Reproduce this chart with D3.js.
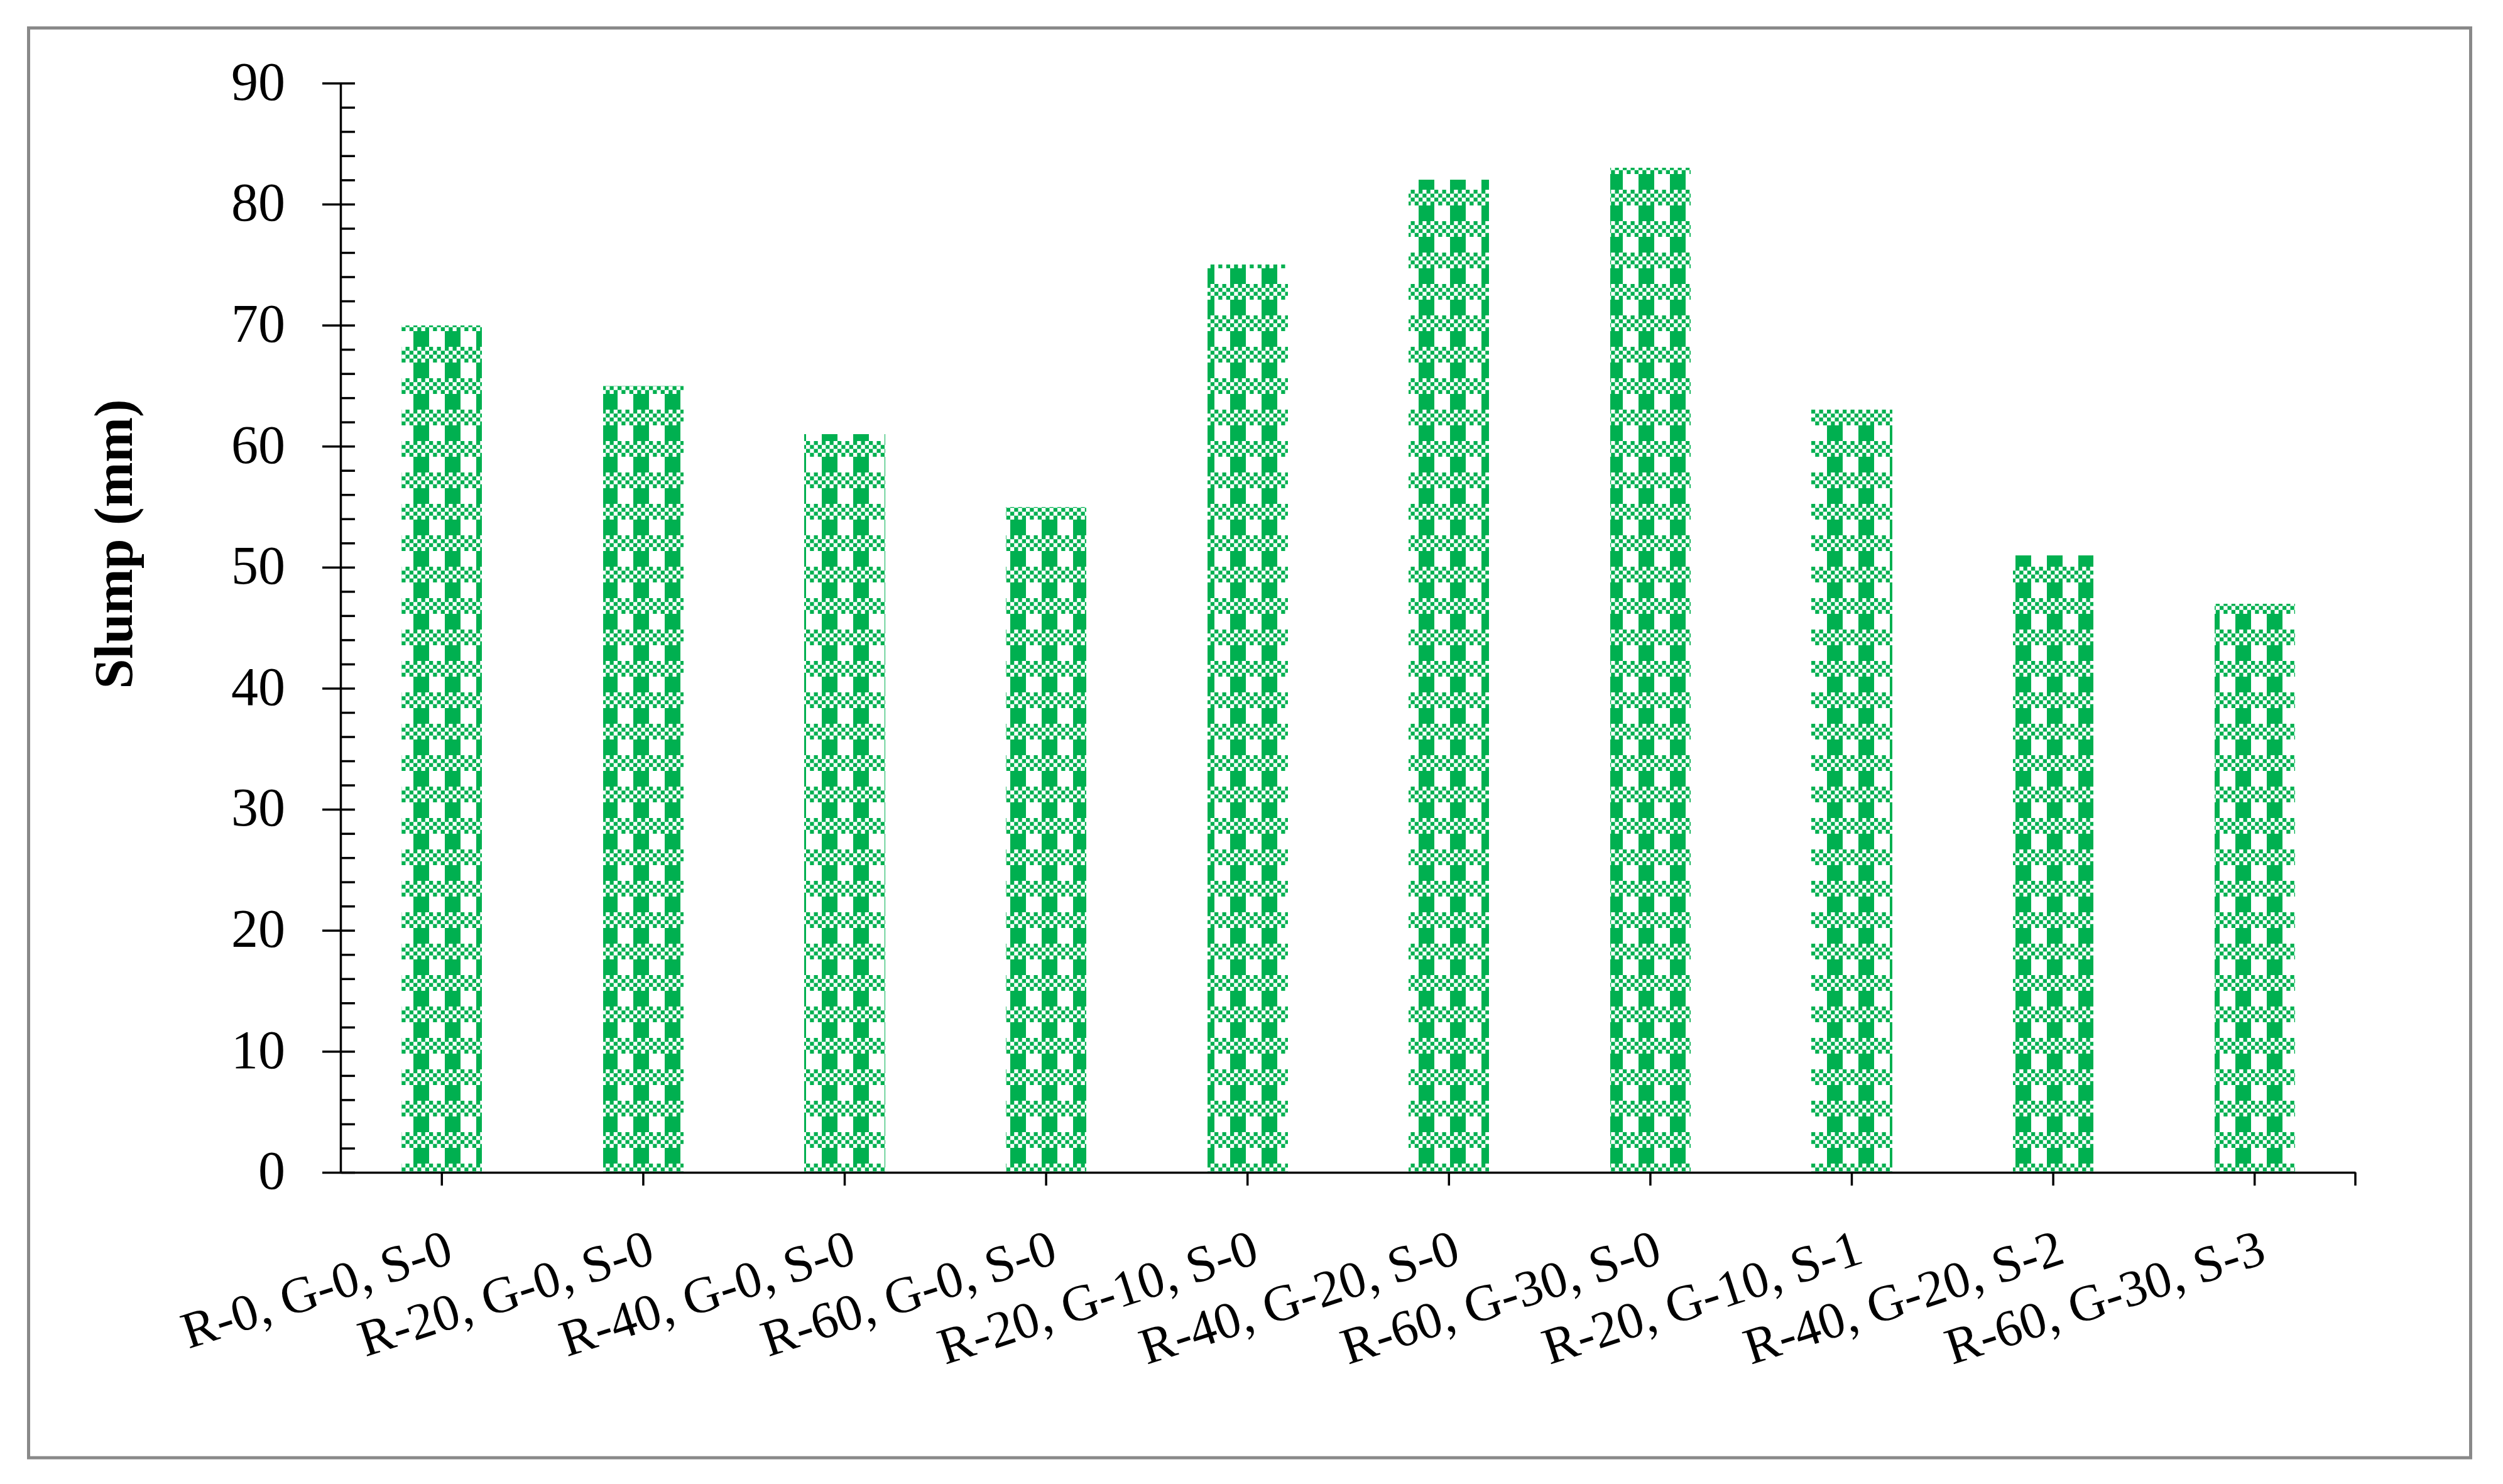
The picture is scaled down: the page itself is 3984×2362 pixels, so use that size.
<!DOCTYPE html>
<html>
<head>
<meta charset="utf-8">
<script src="https://cdn.jsdelivr.net/npm/d3@7"></script>
<style>
  html, body { margin: 0; padding: 0; background: #ffffff; }
  svg { display: block; }
  text { font-family: "Palatino Linotype", "Book Antiqua", Palatino, "Liberation Serif", serif; fill: #000; }
</style>
</head>
<body>
<svg id="chart" width="3984" height="2362"></svg>
<script>
// ---- data ----
const categories = [
  "R-0, G-0, S-0", "R-20, G-0, S-0", "R-40, G-0, S-0", "R-60, G-0, S-0",
  "R-20, G-10, S-0", "R-40, G-20, S-0", "R-60, G-30, S-0",
  "R-20, G-10, S-1", "R-40, G-20, S-2", "R-60, G-30, S-3"
];
const slump = [70, 65, 61, 55, 75, 82, 83, 63, 51, 47];
const yMajorTicks = [0, 10, 20, 30, 40, 50, 60, 70, 80, 90];
const yMinorTicks = d3.range(0, 91, 2);
const yTitle = "Slump (mm)";

// ---- layout ----
const axisX = 542, axisY = 1866, topY = 132.3, rightX = 3749;
const green = "#00B050";
const fontStack = '"Palatino Linotype", "Book Antiqua", Palatino, "Liberation Serif", serif';

const svg = d3.select("#chart");

// frame
svg.append("rect")
  .attr("x", 45.5).attr("y", 44.5)
  .attr("width", 3932.5 - 45.5).attr("height", 2320.2 - 44.5)
  .attr("fill", "#fff").attr("stroke", "#898989").attr("stroke-width", 5);

// pattern (checkered plaid)
const defs = svg.append("defs");
const pat = defs.append("pattern")
  .attr("id", "plaid")
  .attr("patternUnits", "userSpaceOnUse")
  .attr("x", 8).attr("y", 27)
  .attr("width", 50).attr("height", 50);
pat.append("rect").attr("x", 0).attr("y", 0).attr("width", 50).attr("height", 50).attr("fill", "#fff");
pat.append("rect").attr("x", 0).attr("y", 0).attr("width", 25).attr("height", 25).attr("fill", green);
const cells = [];
for (let r = 0; r < 4; r++) for (let c = 0; c < 8; c++) if ((r + c) % 2 === 0) cells.push([r, c]);
pat.selectAll("rect.ck").data(cells).enter().append("rect")
  .attr("class", "ck")
  .attr("x", d => d[1] * 6.25).attr("y", d => 25 + d[0] * 6.25)
  .attr("width", 6.25).attr("height", 6.25)
  .attr("fill", green);

// scales
const x = d3.scaleBand().domain(categories).range([543, rightX]).paddingInner(0.6).paddingOuter(0.3);
const y = d3.scaleLinear().domain([0, 90]).range([axisY, topY]);

// bars
svg.append("g").attr("shape-rendering", "crispEdges")
  .selectAll("rect").data(slump).enter().append("rect")
  .attr("x", (d, i) => x(categories[i]))
  .attr("width", x.bandwidth())
  .attr("y", d => y(d))
  .attr("height", d => y(0) - y(d))
  .attr("fill", "url(#plaid)");

// y axis: major ticks (outside) with labels
const yAxis = svg.append("g").attr("transform", `translate(${axisX},0)`)
  .call(d3.axisLeft(y).tickValues(yMajorTicks).tickSize(29).tickSizeOuter(0).tickPadding(59).tickFormat(d3.format("d")));
yAxis.selectAll("path, line").attr("stroke", "#000").attr("stroke-width", 3.5);
yAxis.selectAll("text").attr("font-size", 86).attr("dy", "0.3em").style("font-family", fontStack);

// y axis: minor ticks (inside)
const yMinor = svg.append("g").attr("transform", `translate(${axisX},0)`)
  .call(d3.axisRight(y).tickValues(yMinorTicks).tickSize(23).tickSizeOuter(0).tickFormat(""));
yMinor.select("path").remove();
yMinor.selectAll("line").attr("stroke", "#000").attr("stroke-width", 3.5);

// x axis
const xAxis = svg.append("g").attr("transform", `translate(0,${axisY})`)
  .call(d3.axisBottom(x).tickSize(21).tickSizeOuter(0));
xAxis.selectAll("path, line").attr("stroke", "#000").attr("stroke-width", 3.5);
xAxis.append("line")
  .attr("x1", x.range()[1]).attr("x2", x.range()[1])
  .attr("y1", 0).attr("y2", 21)
  .attr("stroke", "#000").attr("stroke-width", 3.5);
xAxis.selectAll(".tick text")
  .attr("font-size", 82)
  .style("font-family", fontStack)
  .attr("text-anchor", "end")
  .attr("x", 4).attr("y", 90).attr("dy", "0.68em")
  .attr("transform", "rotate(-18, 4, 90)");

// y title
svg.append("text")
  .attr("transform", `translate(210,866) rotate(-90)`)
  .attr("text-anchor", "middle")
  .attr("font-size", 86)
  .attr("font-weight", "bold")
  .style("font-family", fontStack)
  .text(yTitle);
</script>
</body>
</html>
